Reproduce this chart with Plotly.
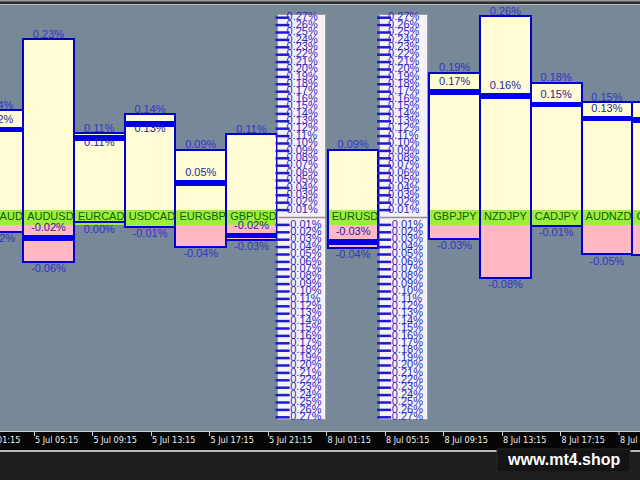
import plotly.graph_objects as go

# ---------------- data ----------------
PAIRS = ["EURAUD", "AUDUSD", "EURCAD", "USDCAD", "EURGBP", "GBPUSD",
         "EURUSD", "GBPJPY", "NZDJPY", "CADJPY", "AUDNZD", "CHFJPY"]
PAIR_SLOTS = [0, 1, 2, 3, 4, 5, 7, 9, 10, 11, 12, 13]
HIGH = [0.141, 0.234, 0.112, 0.136, 0.090, 0.110, 0.090, 0.190, 0.263, 0.177, 0.152, 0.152]
CUR = [0.1195, -0.021, 0.109, 0.127, 0.0506, -0.018, -0.026, 0.1688, 0.1636, 0.152, 0.1338, 0.132]
LOW = [-0.017, -0.056, -0.0045, -0.0104, -0.036, -0.0273, -0.0377, -0.026, -0.0766, -0.0091, -0.046, -0.047]

RULER_SLOTS = [6, 8]
RULER_POS = [0.01, 0.02, 0.03, 0.04, 0.05, 0.06, 0.07, 0.08, 0.09, 0.10, 0.11, 0.12, 0.13, 0.14,
             0.15, 0.16, 0.17, 0.18, 0.19, 0.20, 0.21, 0.22, 0.23, 0.24, 0.25, 0.26, 0.27]
RULER_NEG = [-0.01, -0.02, -0.03, -0.04, -0.05, -0.06, -0.07, -0.08, -0.09, -0.10, -0.11, -0.12,
             -0.13, -0.14, -0.15, -0.16, -0.17, -0.18, -0.19, -0.20, -0.21, -0.22, -0.23, -0.24,
             -0.25, -0.26, -0.27]

TIME_IDX = [1, 2, 3, 4, 5, 6, 7, 8, 9, 10]
TIME_LABELS = ["5 Jul 05:15", "5 Jul 09:15", "5 Jul 13:15", "5 Jul 17:15", "5 Jul 21:15",
               "8 Jul 01:15", "8 Jul 05:15", "8 Jul 09:15", "8 Jul 13:15", "8 Jul 17:15"]
EDGE_IDX = [0, 11]
EDGE_LABELS = ["5 Jul 01:15", "8 Jul 21:15"]

# ---------------- style ----------------
W, H = 640, 480
PXV = 1.0 / 770.0          # value units per pixel on the bar axis
ZERO_PX = 219.0
Y_RANGE = [-(H - ZERO_PX) * PXV, ZERO_PX * PXV]
PXV2 = 1.0 / 740.0         # ruler axis
ZERO2_PX = 217.5
Y2_RANGE = [-(H - ZERO2_PX) * PXV2, ZERO2_PX * PXV2]
SLOT_PX = 50.77
X_RANGE = [2.3 / SLOT_PX, (W + 2.3) / SLOT_PX]
T_PX = 58.5
X2_RANGE = [24.5 / T_PX, (W + 24.5) / T_PX]

BG = "#778899"
CREAM = "#FFFCD6"
PINK = "#FFB8C4"
GREEN = "#9DEE3C"
BLUE = "#0000CC"
LBL = "#3434C6"
CURLBL = "#27278F"
FONT = "Liberation Sans, Arial, sans-serif"
NARROW = "Liberation Sans Narrow, DejaVu Sans Condensed, sans-serif"

BAND_TOP = 9 * PXV
BAND_BOT = -6 * PXV
THICK = 5.5 * PXV


def fmt(v):
    return f"{round(v, 2) + 0.0:.2f}%"


fig = go.Figure()

# cream (positive) and pink (negative) fills
fig.add_trace(go.Bar(x=PAIR_SLOTS, y=HIGH, base=0, width=1, marker=dict(color=CREAM, line=dict(width=0)),
                     hoverinfo="skip"))
fig.add_trace(go.Bar(x=PAIR_SLOTS, y=LOW, base=0, width=1, marker=dict(color=PINK, line=dict(width=0)),
                     hoverinfo="skip"))
# green name band
fig.add_trace(go.Bar(x=PAIR_SLOTS, y=[BAND_TOP - BAND_BOT] * len(PAIR_SLOTS), base=BAND_BOT, width=1,
                     marker=dict(color=GREEN, line=dict(width=0)), hoverinfo="skip"))
# outlines
fig.add_trace(go.Bar(x=PAIR_SLOTS, y=[h - l for h, l in zip(HIGH, LOW)], base=LOW, width=1,
                     marker=dict(color="rgba(0,0,0,0)", line=dict(color=BLUE, width=2)), hoverinfo="skip"))
# current value thick lines
fig.add_trace(go.Bar(x=PAIR_SLOTS, y=[THICK] * len(CUR), base=[c - THICK for c in CUR], width=0.97,
                     marker=dict(color="#0000E8", line=dict(width=0)), hoverinfo="skip"))

# band names
fig.add_trace(go.Scatter(x=[s - 0.5 + 0.08 for s in PAIR_SLOTS], y=[(BAND_TOP + BAND_BOT) / 2] * len(PAIRS),
                         mode="text", text=PAIRS, textposition="middle right",
                         textfont=dict(family=FONT, size=11, color="#0E5E0E"), hoverinfo="skip"))
# top labels
fig.add_trace(go.Scatter(x=PAIR_SLOTS, y=[h + 4 * PXV for h in HIGH], mode="text",
                         text=[fmt(h) for h in HIGH], textposition="middle center",
                         textfont=dict(family=FONT, size=11, color=LBL), hoverinfo="skip"))
# bottom labels
fig.add_trace(go.Scatter(x=PAIR_SLOTS, y=[l - 7.5 * PXV for l in LOW], mode="text",
                         text=[fmt(l) for l in LOW], textposition="middle center",
                         textfont=dict(family=FONT, size=11, color=LBL), hoverinfo="skip"))
# current labels
cur_y = []
for h, c in zip(HIGH, CUR):
    if c > 0 and (h - c) / PXV < 10:
        cur_y.append(c - 8.5 * PXV)
    else:
        cur_y.append(c + 7 * PXV)
fig.add_trace(go.Scatter(x=PAIR_SLOTS, y=cur_y, mode="text", text=[fmt(c) for c in CUR],
                         textposition="middle center",
                         textfont=dict(family=FONT, size=11, color=CURLBL), hoverinfo="skip"))

# ---------------- rulers (own axis) ----------------
R_EXT = RULER_POS[-1] + 2.3 * PXV2
fig.add_trace(go.Bar(x=RULER_SLOTS, y=[2 * R_EXT] * len(RULER_SLOTS), base=-R_EXT, width=0.95, yaxis="y2",
                     marker=dict(color="#F7F1F8", line=dict(color="#9C9C9C", width=1)), hoverinfo="skip"))
sep_x, sep_y = [], []
for s in RULER_SLOTS:
    sep_x += [s - 0.47, s + 0.47, None]
    sep_y += [0, 0, None]
fig.add_trace(go.Scatter(x=sep_x, y=sep_y, yaxis="y2", mode="lines",
                         line=dict(color="#8E8E8E", width=1.5), hoverinfo="skip"))
ticks = RULER_POS + RULER_NEG
tx, ty, tt = [], [], []
for s in RULER_SLOTS:
    for v in ticks:
        tx.append(s - 0.5 + 0.11)
        ty.append(v)
        tt.append(fmt(v))
fig.add_trace(go.Scatter(x=tx, y=ty, yaxis="y2", mode="markers",
                         marker=dict(symbol="line-ew", size=10, line=dict(color="#1C1CCC", width=2.5)),
                         hoverinfo="skip"))
fig.add_trace(go.Scatter(x=[x + 0.08 for x in tx], y=ty, yaxis="y2", mode="text", text=tt,
                         textposition="middle right",
                         textfont=dict(family=FONT, size=11, color="#2A2AC2"), hoverinfo="skip"))

# dummy trace for the time axis
fig.add_trace(go.Scatter(x=[TIME_IDX[0]], y=[0], xaxis="x2", mode="markers",
                         marker=dict(opacity=0), hoverinfo="skip"))

# ---------------- frame shapes ----------------
def py(px):
    return 1 - px / H

shapes = [
    dict(type="rect", xref="paper", yref="paper", x0=0, x1=1, y0=py(5), y1=1, fillcolor="#2A2A2A",
         line=dict(width=0), layer="below"),
    dict(type="rect", xref="paper", yref="paper", x0=0, x1=1, y0=py(1.5), y1=1, fillcolor="#9A9A9A",
         line=dict(width=0), layer="below"),
    dict(type="line", xref="paper", yref="paper", x0=0, x1=1, y0=py(4.5), y1=py(4.5),
         line=dict(color="#B8B8B8", width=1), layer="below"),
    dict(type="rect", xref="paper", yref="paper", x0=0, x1=1, y0=py(451), y1=py(431), fillcolor="#050505",
         line=dict(width=0), layer="below"),
    dict(type="rect", xref="paper", yref="paper", x0=0, x1=1, y0=0, y1=py(451), fillcolor="#1E1E1E",
         line=dict(width=0), layer="below"),
    dict(type="line", xref="paper", yref="paper", x0=0, x1=1, y0=py(451), y1=py(451),
         line=dict(color="#F0F0F0", width=1.5), layer="below"),
    dict(type="rect", xref="paper", yref="paper", x0=497 / W, x1=630 / W, y0=py(472), y1=py(449),
         fillcolor="#141414", line=dict(color="#262626", width=1), layer="below"),
]
# edge ticks (outside the drawn tick range)
for k in EDGE_IDX:
    xp = (k - X2_RANGE[0]) / (X2_RANGE[1] - X2_RANGE[0])
    shapes.append(dict(type="line", xref="paper", yref="paper", x0=xp, x1=xp, y0=py(435), y1=py(431),
                       line=dict(color="#CFCFCF", width=1)))

annotations = [
    dict(xref="paper", yref="paper", x=563.5 / W, y=py(459), text="<b>www.mt4.shop</b>", showarrow=False,
         font=dict(family=FONT, size=16, color="#FFFFFF"),
         xanchor="center", yanchor="middle"),
]
for k, lab in zip(EDGE_IDX, EDGE_LABELS):
    annotations.append(dict(xref="paper", yref="paper", x=(k - X2_RANGE[0]) / (X2_RANGE[1] - X2_RANGE[0]),
                            y=py(440), text=lab, showarrow=False, xanchor="left", yanchor="middle", xshift=-1,
                            font=dict(family=NARROW, size=9, color="#F0F0F0")))

fig.update_layout(
    width=W, height=H, margin=dict(l=0, r=0, t=0, b=0, pad=0, autoexpand=False),
    paper_bgcolor=BG, plot_bgcolor="rgba(0,0,0,0)",
    barmode="overlay", bargap=0, showlegend=False,
    xaxis=dict(range=X_RANGE, visible=False, fixedrange=True),
    yaxis=dict(range=Y_RANGE, visible=False, fixedrange=True),
    yaxis2=dict(range=Y2_RANGE, overlaying="y", visible=False, fixedrange=True),
    xaxis2=dict(range=X2_RANGE, overlaying="x", anchor="free", position=py(431), side="bottom",
                tickvals=TIME_IDX, ticktext=TIME_LABELS, ticks="outside", ticklen=4, tickcolor="#CFCFCF",
                showline=True, linecolor="#CFCFCF", linewidth=1, showgrid=False, zeroline=False,
                ticklabelposition="outside right", automargin=False,
                tickfont=dict(family=NARROW, size=9, color="#F0F0F0")),
    shapes=shapes, annotations=annotations,
)

fig.write_html("out.html", config={"displayModeBar": False},
               post_script="document.body.style.margin='0px';document.body.style.overflow='hidden';")
